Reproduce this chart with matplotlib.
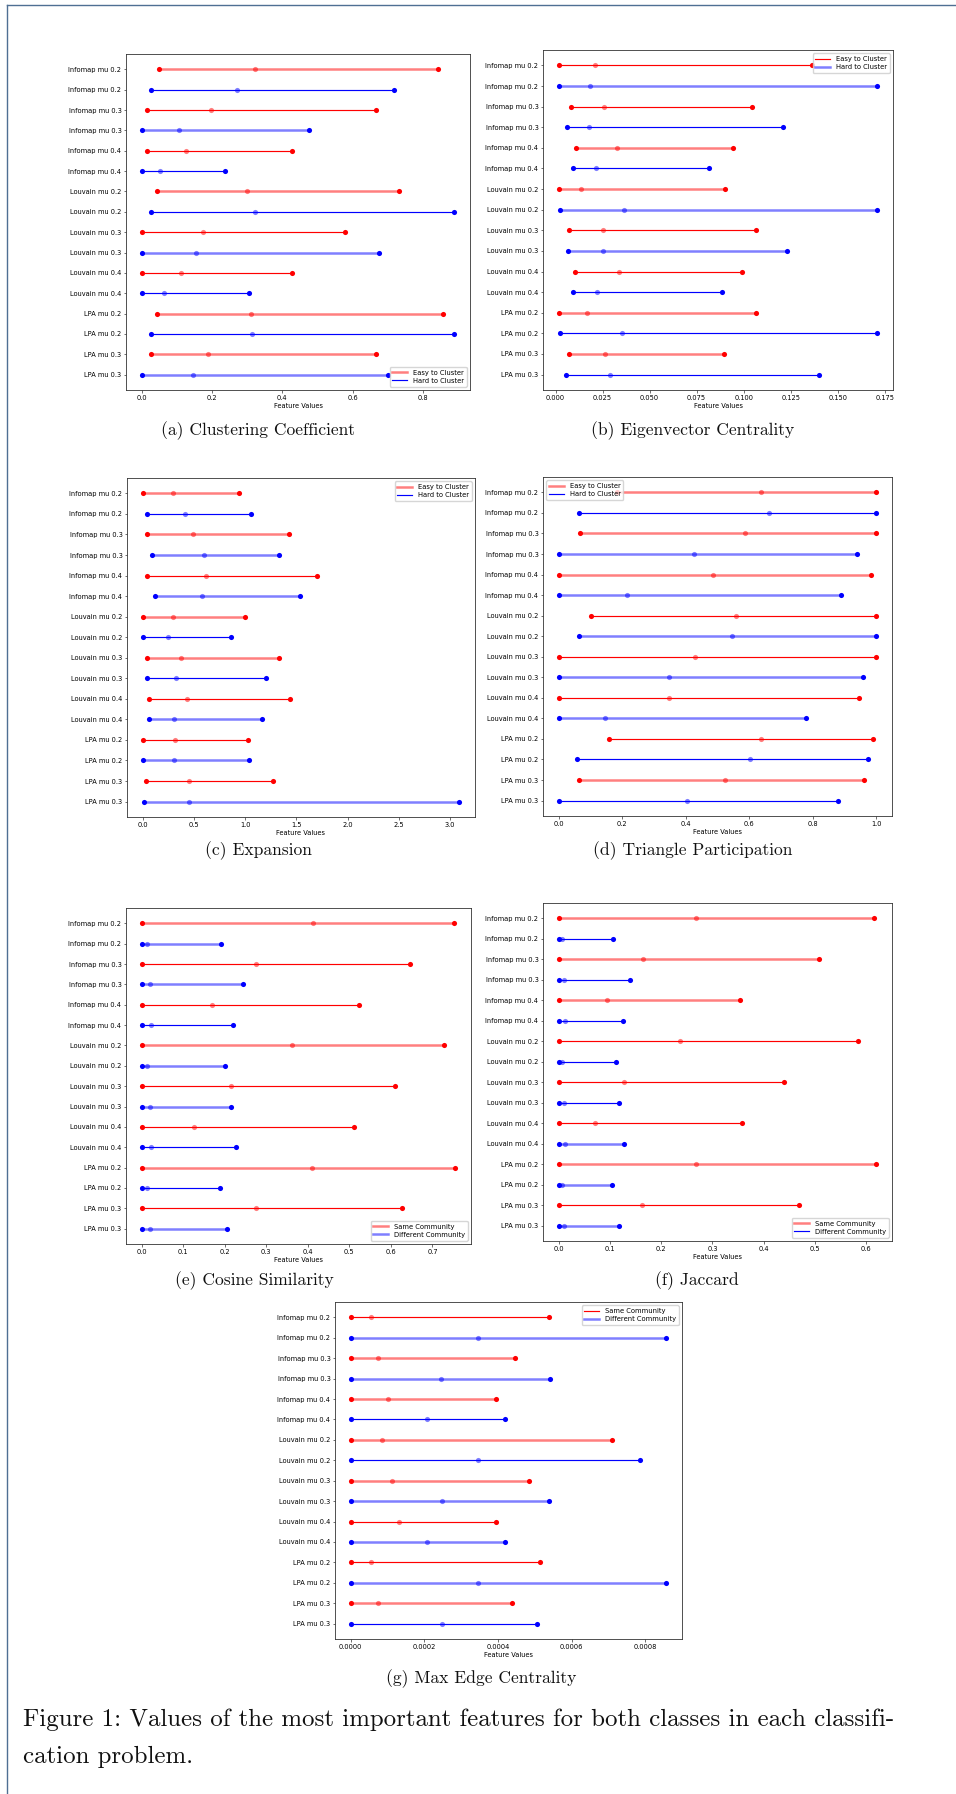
import matplotlib
matplotlib.use('Agg')
import matplotlib.pyplot as plt
from matplotlib.lines import Line2D

plt.rcParams['font.family'] = ['DejaVu Sans']
plt.rcParams['axes.linewidth'] = 0.6
plt.rcParams['axes.edgecolor'] = '#333333'
plt.rcParams['xtick.major.size'] = 1.8
plt.rcParams['ytick.major.size'] = 1.8
plt.rcParams['xtick.major.width'] = 0.4
plt.rcParams['ytick.major.width'] = 0.4
plt.rcParams['xtick.major.pad'] = 1.5
plt.rcParams['ytick.major.pad'] = 1.5

labels = ['Infomap mu 0.2', 'Infomap mu 0.2', 'Infomap mu 0.3', 'Infomap mu 0.3',
          'Infomap mu 0.4', 'Infomap mu 0.4', 'Louvain mu 0.2', 'Louvain mu 0.2',
          'Louvain mu 0.3', 'Louvain mu 0.3', 'Louvain mu 0.4', 'Louvain mu 0.4',
          'LPA mu 0.2', 'LPA mu 0.2', 'LPA mu 0.3', 'LPA mu 0.3']

# (a) clustering coefficient
cc_min = [0.048, 0.027, 0.015, 0.0, 0.014, 0.0, 0.045, 0.027, 0.0, 0.0, 0.0, 0.0, 0.045, 0.027, 0.027, 0.0]
cc_mid = [0.323, 0.271, 0.197, 0.105, 0.125, 0.052, 0.299, 0.322, 0.174, 0.154, 0.112, 0.063, 0.311, 0.314, 0.190, 0.146]
cc_max = [0.843, 0.717, 0.666, 0.477, 0.427, 0.238, 0.732, 0.889, 0.579, 0.674, 0.427, 0.304, 0.858, 0.889, 0.666, 0.701]
cc_light = [1, 0, 0, 1, 0, 0, 1, 0, 0, 1, 0, 0, 1, 0, 1, 1]

# (b) eigenvector centrality
ev_min = [0.0018, 0.0018, 0.0080, 0.0060, 0.0108, 0.0092, 0.0018, 0.0023, 0.0069, 0.0067, 0.0105, 0.0092, 0.0021, 0.0023, 0.0069, 0.0057]
ev_mid = [0.0208, 0.0185, 0.0256, 0.0176, 0.0326, 0.0213, 0.0135, 0.0366, 0.0254, 0.0252, 0.0339, 0.0222, 0.0165, 0.0351, 0.0261, 0.0287]
ev_max = [0.1364, 0.1709, 0.1043, 0.1207, 0.0942, 0.0816, 0.0900, 0.1709, 0.1068, 0.1231, 0.0992, 0.0887, 0.1068, 0.1709, 0.0894, 0.1398]
ev_light = [0, 1, 0, 0, 1, 0, 1, 1, 0, 1, 0, 0, 1, 0, 1, 0]

# (c) expansion
ex_min = [0.0, 0.039, 0.042, 0.085, 0.039, 0.117, 0.0, 0.0, 0.036, 0.036, 0.059, 0.065, 0.0, 0.0, 0.033, 0.016]
ex_mid = [0.296, 0.414, 0.492, 0.599, 0.619, 0.573, 0.293, 0.248, 0.368, 0.326, 0.430, 0.300, 0.313, 0.309, 0.446, 0.450]
ex_max = [0.941, 1.055, 1.423, 1.329, 1.704, 1.537, 0.997, 0.863, 1.326, 1.199, 1.440, 1.160, 1.026, 1.039, 1.270, 3.088]
ex_light = [1, 0, 1, 1, 0, 1, 1, 0, 1, 0, 0, 1, 0, 1, 0, 1]

# (d) triangle participation
tp_min = [0.183, 0.063, 0.068, 0.0, 0.0, 0.0, 0.101, 0.065, 0.0, 0.0, 0.0, 0.0, 0.159, 0.058, 0.062, 0.0]
tp_mid = [0.637, 0.663, 0.587, 0.426, 0.485, 0.216, 0.559, 0.547, 0.428, 0.348, 0.346, 0.144, 0.636, 0.601, 0.524, 0.404]
tp_max = [1.0, 0.998, 1.0, 0.939, 0.984, 0.888, 1.0, 0.998, 0.998, 0.959, 0.945, 0.780, 0.991, 0.974, 0.963, 0.881]
tp_light = [1, 0, 1, 1, 1, 1, 0, 1, 0, 1, 0, 1, 0, 0, 1, 0]

# (e) cosine similarity
cs_min = [0.0] * 16
cs_mid = [0.412, 0.014, 0.275, 0.019, 0.169, 0.023, 0.363, 0.014, 0.215, 0.019, 0.127, 0.023, 0.411, 0.014, 0.274, 0.019]
cs_max = [0.751, 0.191, 0.645, 0.245, 0.523, 0.221, 0.727, 0.201, 0.611, 0.216, 0.510, 0.227, 0.755, 0.189, 0.627, 0.206]
cs_light = [1, 1, 0, 1, 0, 0, 1, 1, 0, 1, 0, 0, 1, 0, 0, 1]

# (f) jaccard
jc_min = [0.0] * 16
jc_mid = [0.268, 0.007, 0.164, 0.010, 0.094, 0.012, 0.236, 0.007, 0.127, 0.010, 0.070, 0.012, 0.268, 0.007, 0.163, 0.010]
jc_max = [0.616, 0.106, 0.509, 0.139, 0.353, 0.125, 0.584, 0.111, 0.440, 0.117, 0.358, 0.128, 0.620, 0.104, 0.470, 0.117]
jc_light = [1, 0, 1, 0, 1, 0, 0, 0, 0, 0, 0, 1, 1, 1, 0, 1]

# (g) max edge centrality
me_min = [0.0] * 16
me_mid = [0.0000544, 0.000345, 0.0000744, 0.000246, 0.0001, 0.000207, 0.000084, 0.000345,
          0.000112, 0.000247, 0.00013, 0.000207, 0.000054, 0.000345, 0.000074, 0.000247]
me_max = [0.000538, 0.000857, 0.000447, 0.000541, 0.000395, 0.000419, 0.000709, 0.000785,
          0.000485, 0.000539, 0.000395, 0.000418, 0.000515, 0.000857, 0.000439, 0.000507]
me_light = [0, 1, 1, 1, 1, 0, 1, 0, 1, 1, 0, 1, 0, 1, 1, 0]

cluster_names = ['Easy to Cluster', 'Hard to Cluster']
community_names = ['Same Community', 'Different Community']

W, H = 956, 1794
fig = plt.figure(figsize=(W / 100, H / 100), dpi=100)


def box(left, right, top, bottom):
    return [left / W, 1 - bottom / H, (right - left) / W, (bottom - top) / H]


def style(light):
    if light:
        return dict(lw=1.8, alpha=0.5)
    return dict(lw=0.85, alpha=1.0)


def range_plot(rect, lo, mid, hi, light, names, loc):
    ax = fig.add_axes(rect)
    colors = ['red', 'blue'] * 8
    for i in range(len(labels)):
        c = colors[i]
        ax.plot([lo[i], hi[i]], [i, i], color=c, solid_capstyle='butt', **style(light[i]))
        ax.plot([lo[i], hi[i]], [i, i], 'o', color=c, ms=3.7, mew=0)
        ax.plot([mid[i]], [i], 'o', color=c, ms=3.7, mew=0, alpha=0.5)
    ax.set_yticks(range(len(labels)))
    ax.set_yticklabels(labels)
    ax.invert_yaxis()
    ax.tick_params(labelsize=4.8)
    ax.set_xlabel('Feature Values', fontsize=4.8, labelpad=1.5)
    handles = [Line2D([], [], color='red', **style(light[0])),
               Line2D([], [], color='blue', **style(light[1]))]
    ax.legend(handles, names, loc=loc, fontsize=4.9, handlelength=2.2,
              borderpad=0.4, labelspacing=0.3, framealpha=0.8, edgecolor='#cccccc',
              fancybox=True)
    return ax


range_plot(box(126, 470, 54, 390), cc_min, cc_mid, cc_max, cc_light, cluster_names, 'lower right')
range_plot(box(543, 893, 50, 390), ev_min, ev_mid, ev_max, ev_light, cluster_names, 'upper right')
range_plot(box(127, 475, 478, 817), ex_min, ex_mid, ex_max, ex_light, cluster_names, 'upper right')
range_plot(box(543, 892, 477, 816), tp_min, tp_mid, tp_max, tp_light, cluster_names, 'upper left')
range_plot(box(126, 471, 908, 1244), cs_min, cs_mid, cs_max, cs_light, community_names, 'lower right')
range_plot(box(543, 892, 903, 1241), jc_min, jc_mid, jc_max, jc_light, community_names, 'lower right')
range_plot(box(335, 682, 1302, 1639), me_min, me_mid, me_max, me_light, community_names, 'upper right')

cap = dict(family='cmr10', fontsize=12.6, ha='center', va='center', color='#111111')
fig.text(258 / W, 1 - 431 / H, '(a) Clustering Coefficient', **cap)
fig.text(693 / W, 1 - 431 / H, '(b) Eigenvector Centrality', **cap)
fig.text(258 / W, 1 - 851 / H, '(c) Expansion', **cap)
fig.text(693 / W, 1 - 851 / H, '(d) Triangle Participation', **cap)
fig.text(254 / W, 1 - 1281 / H, '(e) Cosine Similarity', **cap)
fig.text(697 / W, 1 - 1281 / H, '(f) Jaccard', **cap)
fig.text(481 / W, 1 - 1679 / H, '(g) Max Edge Centrality', **cap)

fig.text(23 / W, 1 - 1720 / H,
         'Figure 1: Values of the most important features for both classes in each classifi-',
         family='cmr10', fontsize=17.9, ha='left', va='center', color='#111111')
fig.text(23 / W, 1 - 1757 / H, 'cation problem.',
         family='cmr10', fontsize=17.9, ha='left', va='center', color='#111111')

# page frame (top and left edges only)
fig.add_artist(Line2D([7 / W, 1], [1 - 5 / H, 1 - 5 / H], color='#4f6f93', lw=1.0))
fig.add_artist(Line2D([7 / W, 7 / W], [0, 1 - 5 / H], color='#4f6f93', lw=1.0))

fig.savefig('out.png', dpi=100)
